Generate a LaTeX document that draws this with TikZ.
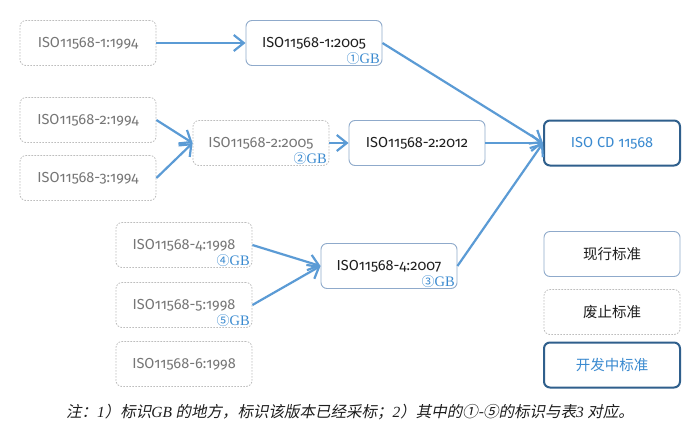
\documentclass[tikz,border=0pt]{standalone}
\usepackage{fontspec}
\setmainfont{Fira Sans}[Numbers=OldStyle]
\newfontfamily\cjk{Noto Sans CJK SC}
\newfontfamily\cjkit{Noto Sans CJK SC}[FakeSlant=0.2]
\newfontfamily\gbf{Liberation Serif}
\newfontfamily\circf{Noto Sans CJK SC}
\usetikzlibrary{arrows.meta,calc}
\definecolor{arrc}{HTML}{5B9BD5}
\definecolor{curc}{HTML}{8FAACB}
\definecolor{oldc}{HTML}{BDBDBD}
\definecolor{oldt}{HTML}{767676}
\definecolor{devc}{HTML}{2F5F8C}
\definecolor{blu}{HTML}{3A8AD0}
\definecolor{txt}{HTML}{1E1E1E}
\newcommand{\gbl}[1]{{\circf\fontsize{13}{14}\selectfont #1}{\gbf\fontsize{14.5}{15}\selectfont GB}}
\begin{document}
\begin{tikzpicture}[x=1pt,y=-1pt,
  box/.style={rounded corners=6pt, minimum width=136pt, minimum height=45pt, inner sep=0pt, font=\fontsize{14.5}{16}\selectfont},
  cur/.style={box, draw=curc, line width=0.9pt, text=txt},
  old/.style={box, draw=oldc, line width=0.8pt, dash pattern=on 1.6pt off 1.4pt, text=oldt},
  dev/.style={box, draw=devc, line width=2pt, text=blu},
  leg/.style={font=\cjk\fontsize{14.5}{16}\selectfont},
  arr/.style={draw=arrc, line width=2.2pt, -{Straight Barb[length=10pt,width=16pt,line width=2.2pt]}},
  gb/.style={text=blu, inner sep=0.5pt, anchor=south east}
]
\useasboundingbox (0,0) rectangle (700,444);
\fill[white] (0,0) rectangle (700,444);
% column A
\node[old] (a1) at (88,43) {ISO11568-1:1994};
\node[old] (a2) at (88,120) {ISO11568-2:1994};
\node[old] (a3) at (88,178) {ISO11568-3:1994};
\node[old] (a4) at (184,245) {ISO11568-4:1998};
\node[old] (a5) at (184,305) {ISO11568-5:1998};
\node[old] (a6) at (184,364) {ISO11568-6:1998};
% middle
\node[cur] (b1) at (314,43) {ISO11568-1:2005};
\node[old] (b2) at (261,143) {ISO11568-2:2005};
\node[cur] (c2) at (417,143) {ISO11568-2:2012};
\node[cur] (b4) at (389,266) {ISO11568-4:2007};
\node[dev] (d) at (612,143) {ISO CD 11568};
% GB labels
\node[gb] (g1) at ($(b1.south east)+(-2,-1)$) {\gbl{①}};
\node[gb] (g2) at ($(b2.south east)+(-2,-1)$) {\gbl{②}};
\node[gb] (g3) at ($(b4.south east)+(-2,-1)$) {\gbl{③}};
\node[gb] (g4) at ($(a4.south east)+(-2,-1)$) {\gbl{④}};
\node[gb] (g5) at ($(a5.south east)+(-2,-1)$) {\gbl{⑤}};
% legend
\node[cur,leg] (l1) at (612,254) {现行标准};
\node[old,leg,text=txt] (l2) at (612,312) {废止标准};
\node[dev,leg] (l3) at (612,365) {开发中标准};
% arrows
\draw[arr] (a1.east) -- (b1.west);
\draw[arr] (a2.east) -- (b2.west);
\draw[arr] (a3.east) -- (b2.west);
\draw[arr] (b2.east) -- (c2.west);
\draw[arr] (b1.east) -- (d.west);
\draw[arr] (c2.east) -- (d.west);
\draw[arr] (b4.east) -- (d.west);
\draw[arr] (a4.east) -- (b4.west);
\draw[arr] (a5.east) -- (b4.west);
% caption
\node[text=txt, font=\cjkit\fontsize{15.5}{17}\selectfont] (cap) at (350,412)
  {注：{\gbf\itshape 1}）标识{\gbf\itshape GB} 的地方，标识该版本已经采标；{\gbf\itshape 2}）其中的①-⑤的标识与表{\gbf\itshape 3} 对应。};
\end{tikzpicture}
\end{document}
